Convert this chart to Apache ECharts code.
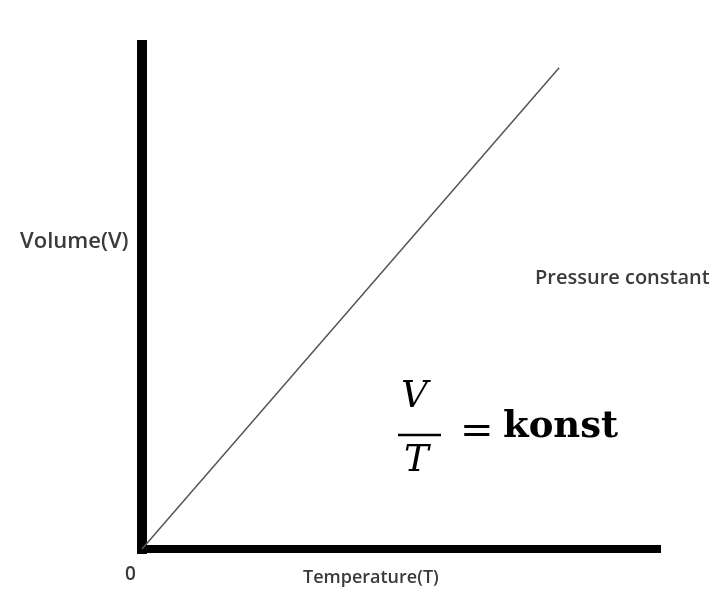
<!DOCTYPE html>
<html>
<head>
<meta charset="utf-8">
<script src="https://cdn.jsdelivr.net/npm/echarts@6/dist/echarts.min.js"></script>
<style>
  html, body { margin: 0; padding: 0; background: #fff; }
  #chartModel { width: 718px; height: 592px; }
</style>
</head>
<body>
<div id="chartModel"></div>
<script>
// Charles' law: volume rises linearly with temperature (pressure constant)
const temperature = [0, 81];
const volume = [0, 95.5];
const xRange = [0, 100];
const yRange = [0, 100];

const myChart = echarts.init(document.getElementById('chartModel'));

const labelStyle = {
  fontFamily: 'Open Sans',
  fontWeight: 600,
  fill: '#3a3a3a'
};

const chartOption = {
  backgroundColor: '#fff',
  animation: false,
  grid: {
    left: 142,
    right: 61,
    top: 45,
    bottom: 43
  },
  xAxis: {
    type: 'value',
    min: xRange[0],
    max: xRange[1],
    axisLine: {
      show: true,
      lineStyle: { color: '#000', width: 8, cap: 'square' }
    },
    axisTick: { show: false },
    axisLabel: { show: false },
    splitLine: { show: false }
  },
  yAxis: {
    type: 'value',
    min: yRange[0],
    max: yRange[1],
    axisLine: {
      show: true,
      lineStyle: { color: '#000', width: 10, cap: 'square' }
    },
    axisTick: { show: false },
    axisLabel: { show: false },
    splitLine: { show: false }
  },
  series: [
    {
      name: 'V/T',
      type: 'line',
      data: temperature.map((t, i) => [t, volume[i]]),
      symbol: 'none',
      z: 1,
      lineStyle: { color: '#555', width: 1.5 }
    }
  ],
  graphic: [
    { type: 'text', left: 20, top: 231, style: Object.assign({ text: 'Volume(V)', fontSize: 22 }, labelStyle) },
    { type: 'text', left: 535, top: 268, style: Object.assign({ text: 'Pressure constant', fontSize: 20 }, labelStyle) },
    { type: 'text', left: 125, top: 565, style: Object.assign({ text: '0', fontSize: 19 }, labelStyle) },
    { type: 'text', left: 303, top: 569, style: Object.assign({ text: 'Temperature(T)', fontSize: 18 }, labelStyle) },
    // formula V/T = konst
    { type: 'text', left: 401, top: 379, style: { text: 'V', fontFamily: 'DejaVu Serif', fontStyle: 'italic', fontSize: 37, fill: '#000' } },
    { type: 'line', shape: { x1: 398, y1: 435, x2: 441, y2: 435 }, style: { stroke: '#000', lineWidth: 2.5 } },
    { type: 'text', left: 404, top: 443, style: { text: 'T', fontFamily: 'DejaVu Serif', fontStyle: 'italic', fontSize: 37, fill: '#000' } },
    { type: 'text', left: 460, top: 413, style: { text: '=', fontFamily: 'DejaVu Serif', fontSize: 40, fill: '#000' } },
    { type: 'text', left: 503, top: 409, style: { text: 'konst', fontFamily: 'DejaVu Serif', fontWeight: 'bold', fontSize: 37, fill: '#000' } }
  ]
};

myChart.setOption(chartOption);
</script>
</body>
</html>
